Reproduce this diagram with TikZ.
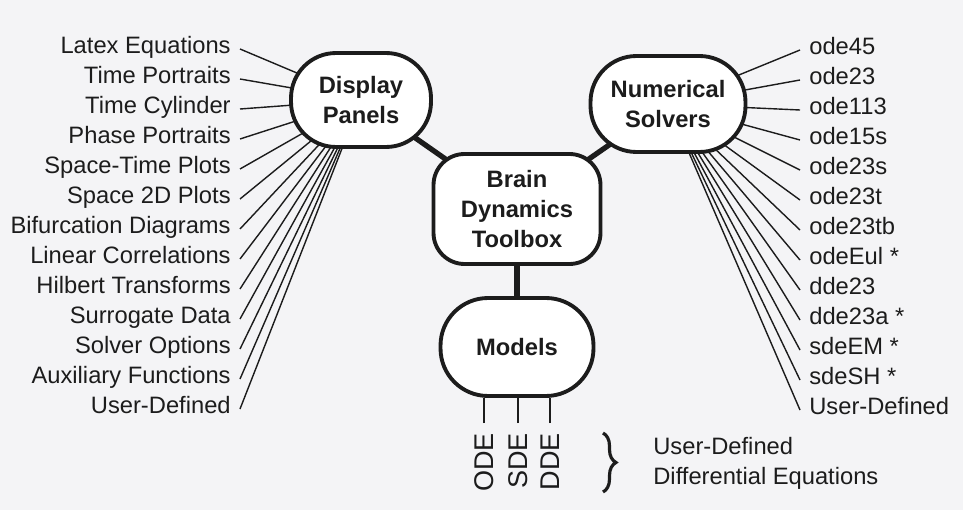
\documentclass[tikz,border=0pt]{standalone}
\usepackage{fontspec}
\setmainfont{Liberation Sans}
\usetikzlibrary{positioning,backgrounds,decorations.pathreplacing}
\definecolor{ink}{HTML}{1C1C1C}
\definecolor{paper}{HTML}{F4F4F6}
\tikzset{
  hub/.style={draw=ink, fill=white, line width=2.2pt, align=center,
    font=\fontsize{13.5}{17}\selectfont\bfseries, text=ink, inner sep=0pt},
  item/.style={font=\fontsize{13.5}{17}\selectfont, text=ink, inner xsep=0.18cm,
    inner ysep=1pt},
  eqtype/.style={font=\fontsize{15.4}{18}\selectfont, text=ink, rotate=90,
    inner xsep=0.2cm, inner ysep=0pt},
  spoke/.style={ink, line width=0.8pt},
  trunk/.style={ink, line width=3pt},
  curly/.style={decorate, decoration={brace, amplitude=0.26cm}, ink,
    line width=1.8pt},
}
\begin{document}
\begin{tikzpicture}[x=0.02cm,y=-0.02cm]
  \useasboundingbox (0,0) rectangle (963,510);
  % the four hubs
  \node[hub, minimum width=2.8cm, minimum height=1.88cm, rounded corners=0.9cm]
      (panels) at (361,100) {Display\\Panels};
  \node[hub, minimum width=3.1cm, minimum height=1.92cm, rounded corners=0.92cm]
      (solvers) at (668,104) {Numerical\\Solvers};
  \node[hub, minimum width=3.34cm, minimum height=2.2cm, rounded corners=0.62cm]
      (toolbox) at (517,209) {Brain\\Dynamics\\Toolbox};
  \node[hub, minimum width=3.06cm, minimum height=1.96cm, rounded corners=0.95cm]
      (models) at (517,347) {Models};
  % panel items
  \foreach \t [count=\i] in {Latex Equations, Time Portraits, Time Cylinder,
      Phase Portraits, Space-Time Plots, Space 2D Plots, Bifurcation Diagrams,
      Linear Correlations, Hilbert Transforms, Surrogate Data, Solver Options,
      Auxiliary Functions, User-Defined} {
    \node[item, anchor=mid east] (dp\i) at (240,19+30*\i) {\t};
  }
  % solver items
  \foreach \t [count=\i] in {ode45, ode23, ode113, ode15s, ode23s, ode23t,
      ode23tb, odeEul *, dde23, dde23a *, sdeEM *, sdeSH *, User-Defined} {
    \node[item, anchor=mid west] (ns\i) at (800,20+30*\i) {\t};
  }
  % model types
  \foreach \e/\x in {ODE/484, SDE/518, DDE/550} {
    \node[eqtype, anchor=east] (\e) at (\x,423) {\e};
    \draw[spoke] (\e.east) -- (\e.east |- models.south);
  }
  \coordinate (bt) at (603,433);
  \coordinate (bb) at (603,492);
  \draw[curly] (bt) -- (bb);
  \node[item, anchor=west, align=left, inner xsep=0pt] (ude) at (653,463)
      {User-Defined\\Differential Equations};
  % connectors, under the hubs
  \begin{scope}[on background layer]
    \fill[paper] (0,0) rectangle (963,510);
    \foreach \i in {1,...,13} {
      \draw[spoke] (dp\i.mid east) -- (panels.center);
      \draw[spoke] (ns\i.mid west) -- (solvers.center);
    }
    \draw[trunk] (panels.center) -- (toolbox.center);
    \draw[trunk] (solvers.center) -- (toolbox.center);
    \draw[trunk] (toolbox.center) -- (models.center);
  \end{scope}
\end{tikzpicture}
\end{document}
